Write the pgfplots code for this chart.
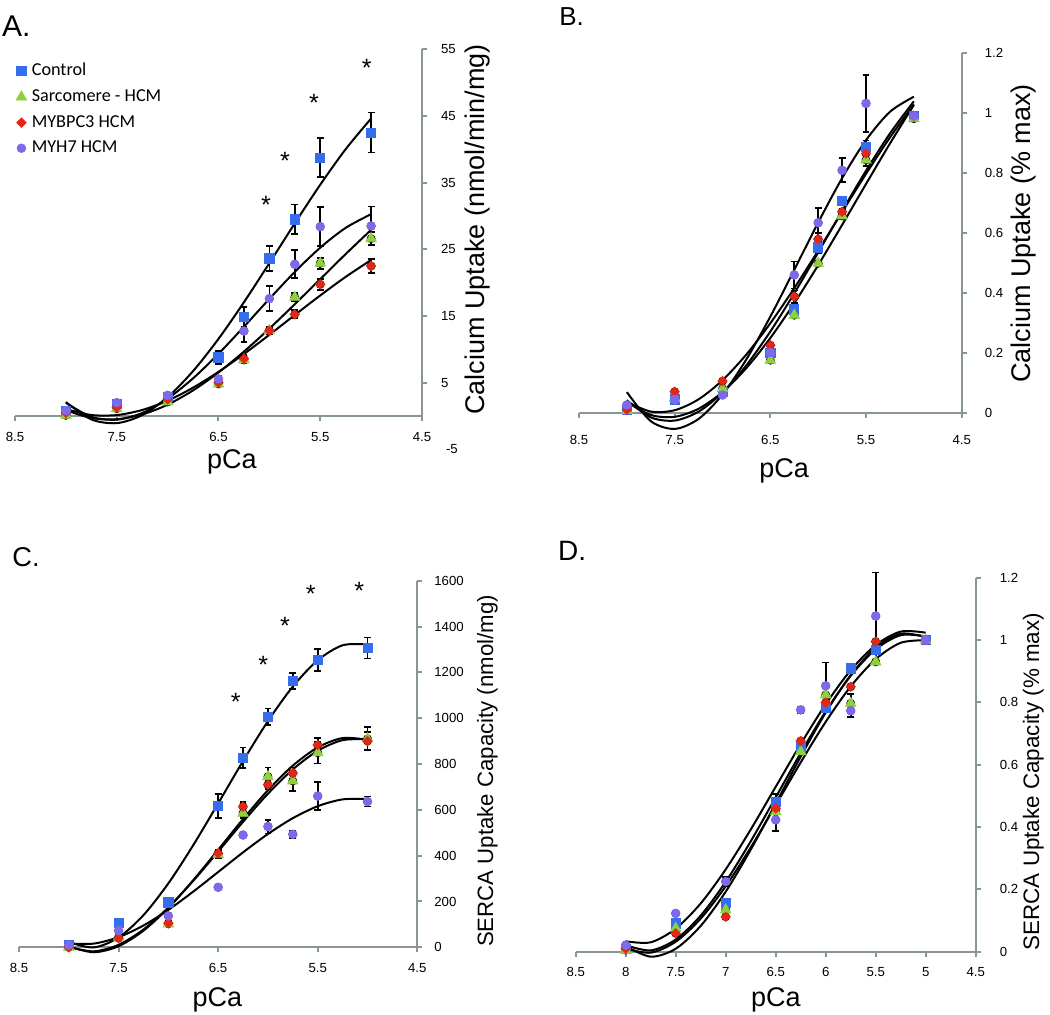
\documentclass[border=0pt]{standalone}
\usepackage{fontspec}
\setmainfont{Liberation Sans}
\newfontfamily\legendfont{Carlito}
\usepackage{pgfplots}
\usepackage{pgfplotstable}
\pgfplotsset{compat=1.18}

\definecolor{cblue}{RGB}{52,110,238}
\definecolor{cgreen}{RGB}{142,208,62}
\definecolor{cred}{RGB}{228,38,22}
\definecolor{cpurple}{RGB}{128,104,234}
\definecolor{axgray}{RGB}{138,150,150}

% ---------- Panel A data ----------
\pgfplotstableread{
x c ce s se m me h he
8 0.8 0 0.1 0 0.5 0 0.8 0
7.5 1.8 0 1.1 0 1.3 0 2.0 0
7 2.9 0 2.1 0 2.5 0 3.1 0
6.5 8.8 1.0 4.8 0.3 5.0 0.3 5.55 0.5
6.25 14.9 1.5 8.4 0.4 8.6 0.5 12.75 1.6
6 23.65 1.9 12.8 0.5 12.8 0.5 17.6 1.9
5.75 29.5 2.2 17.8 0.6 15.25 0.6 22.75 2.1
5.5 38.75 2.9 22.9 0.8 19.75 0.8 28.4 2.95
5 42.5 3.0 26.6 1.0 22.5 1.0 28.5 2.9
}\dataA
\pgfplotstableread{
x c s m h
8 2.09 0.87 1.03 1.98
7.75 -0.51 -0.30 0.15 -0.13
7.5 -1.07 -0.48 0.14 -0.55
7.25 0.13 0.23 0.90 0.45
7 2.83 1.70 2.30 2.60
6.75 6.73 3.84 4.25 5.65
6.5 11.57 6.53 6.62 9.33
6.25 17.06 9.66 9.30 13.39
6 22.93 13.11 12.18 17.57
5.75 28.90 16.77 15.15 21.61
5.5 34.69 20.53 18.08 25.25
5.25 40.02 24.29 20.87 28.22
5 44.62 27.92 23.40 30.27
}\fitA

% ---------- Panel B data ----------
\pgfplotstableread{
x c ce s se m me h he
8 0.01 0 0.007 0 0.01 0 0.026 0
7.5 0.044 0 0.048 0 0.07 0 0.044 0
7 0.07 0 0.08 0 0.105 0 0.059 0
6.5 0.2 0 0.175 0 0.225 0 0.2 0
6.25 0.344 0.02 0.325 0 0.387 0.02 0.459 0.045
6 0.551 0.02 0.498 0 0.578 0.02 0.633 0.05
5.75 0.706 0.01 0.656 0.01 0.67 0.01 0.808 0.04
5.5 0.887 0.02 0.842 0.02 0.864 0.02 1.031 0.095
5 0.99 0 0.98 0 0.99 0 0.989 0
}\dataB
\pgfplotstableread{
x c s m h
8 0.0415 0.0359 0.0361 0.0686
7.75 -0.0156 -0.0076 0.0038 -0.0281
7.5 -0.0262 -0.0137 0.0082 -0.0540
7.25 0.0035 0.0132 0.0447 -0.0207
7 0.0671 0.0689 0.1083 0.0605
6.75 0.1582 0.1490 0.1944 0.1781
6.5 0.2707 0.2491 0.2983 0.3204
6.25 0.3980 0.3649 0.4152 0.4762
6 0.5341 0.4919 0.5402 0.6338
5.75 0.6724 0.6259 0.6688 0.7818
5.5 0.8066 0.7624 0.7961 0.9086
5.25 0.9306 0.8971 0.9173 1.0030
5 1.0379 1.0257 1.0277 1.0532
}\fitB

% ---------- Panel C data ----------
\pgfplotstableread{
x c ce s se m me h he
8 10 0 0 0 0 0 10 0
7.5 105 0 44 0 40 0 73 0
7 196 15 102 0 105 0 137 0
6.5 617 52 406 15 410 15 262 0
6.25 828 44 585 20 614 20 490 0
6 1006 36 745 40 710 20 527 30
5.75 1162 34 726 44 760 25 493 15
5.5 1255 48 849 47 883 30 660 60
5 1306 46 910 51 900 40 636 22
}\dataC
\pgfplotstableread{
x c s m h
8 22.8 1.5 3.6 16.5
7.75 -0.7 -17.6 -21.6 16.1
7.5 42.8 10.8 4.7 44.2
7.25 140.3 77.7 72.6 95.2
7 279.0 173.9 172.0 163.4
6.75 445.9 290.3 292.9 243.1
6.5 628.1 417.9 425.5 328.6
6.25 812.8 547.6 559.7 414.3
6 987.1 670.1 685.5 494.5
5.75 1138.0 776.5 793.0 563.6
5.5 1252.7 857.5 872.2 615.8
5.25 1318.2 904.2 913.2 645.6
5 1321.7 907.3 905.8 647.2
}\fitC

% ---------- Panel D data ----------
\pgfplotstableread{
x c ce s se m me h he
8 0.01 0 0.005 0 0.01 0 0.021 0
7.5 0.091 0 0.075 0 0.059 0 0.123 0
7 0.157 0 0.134 0 0.112 0 0.225 0.015
6.5 0.481 0.025 0.449 0 0.46 0 0.423 0.035
6.25 0.658 0 0.642 0 0.676 0 0.776 0.01
6 0.781 0 0.824 0 0.799 0 0.853 0.075
5.75 0.909 0 0.797 0.03 0.85 0 0.773 0.02
5.5 0.968 0 0.93 0 0.995 0 1.077 0.14
5 1.0 0 1.0 0 1.0 0 1.0 0
}\dataD
\pgfplotstableread{
x c s m h
8 0.0210 0.0100 0.0179 0.0334
7.75 0.0041 -0.0031 -0.0160 0.0302
7.5 0.0391 0.0320 0.0095 0.0739
7.25 0.1159 0.1062 0.0828 0.1549
7 0.2242 0.2101 0.1925 0.2641
6.75 0.3541 0.3344 0.3272 0.3919
6.5 0.4953 0.4699 0.4755 0.5291
6.25 0.6376 0.6074 0.6259 0.6662
6 0.7710 0.7375 0.7670 0.7940
5.75 0.8852 0.8511 0.8874 0.9030
5.5 0.9701 0.9387 0.9756 0.9838
5.25 1.0156 0.9912 1.0203 1.0271
5 1.0116 0.9993 1.0099 1.0236
}\fitD

\tikzset{asterisk/.style={font=\fontsize{12.5}{12.5}\selectfont, yshift=-2.6pt}}

\pgfplotsset{
  panel/.style={
    scale only axis,
    x dir=reverse, xmin=4.5, xmax=8.5, ymin=0,
    axis x line=bottom, axis y line=right,
    axis line style={-, draw=axgray, line width=1pt},
    tick style={draw=axgray, line width=1pt},
    tick align=outside,
    major tick length=2.5pt,
    clip=false,
    ticklabel style={font=\fontsize{6.6}{7}\selectfont},
    xticklabel style={yshift=-2pt},
    legend image code/.code={\draw[#1] plot coordinates {(0pt,0pt)};},
  },
  curve/.style={black, line width=1pt, smooth, no markers, forget plot},
  ebar/.style={forget plot, only marks, mark=none,
    error bars/.cd, y dir=both, y explicit,
    error bar style={black, line width=0.85pt},
    error mark options={rotate=90, black, line width=0.85pt, mark size=1.7pt}},
  mc/.style={only marks, mark=square*, mark size=2.3pt, color=cblue},
  ms/.style={only marks, mark=triangle*, mark size=3pt, color=cgreen},
  mm/.style={only marks, mark=square*, mark size=1.65pt, mark options={rotate=45}, color=cred},
  mh/.style={only marks, mark=*, mark size=2.15pt, color=cpurple},
}

\newcommand{\panelplots}[2]{%
  \addplot[ebar] table[x=x,y=c,y error=ce]{#1};
  \addplot[ebar] table[x=x,y=s,y error=se]{#1};
  \addplot[ebar] table[x=x,y=m,y error=me]{#1};
  \addplot[ebar] table[x=x,y=h,y error=he]{#1};
  \addplot[mc] table[x=x,y=c]{#1};
  \addplot[ms] table[x=x,y=s]{#1};
  \addplot[mm] table[x=x,y=m]{#1};
  \addplot[mh] table[x=x,y=h]{#1};
  \addplot[curve] table[x=x,y=c]{#2};
  \addplot[curve] table[x=x,y=s]{#2};
  \addplot[curve] table[x=x,y=m]{#2};
  \addplot[curve] table[x=x,y=h]{#2};
}

\begin{document}
\begin{tikzpicture}
\useasboundingbox (0pt,0pt) rectangle (525pt,507pt);

% ---------------- A ----------------
\begin{axis}[panel, at={(7.5pt,299pt)}, anchor=south west,
  width=203.5pt, height=183.35pt, ymax=55,
  xtick={8.5,7.5,6.5,5.5,4.5}, xticklabels={8.5,7.5,6.5,5.5,4.5},
  ytick={5,15,25,35,45,55}, yticklabels={5,15,25,35,45,55},
  yticklabel style={xshift=3.5pt},
  legend style={at={(0.002,0.978)}, anchor=north west, draw=none, fill=none,
    font=\legendfont\fontsize{9.1}{10}\selectfont, row sep=0pt, inner sep=0pt,
    nodes={inner xsep=2.6pt, inner ysep=2.7pt}},
  legend cell align=left,
]
\panelplots{\dataA}{\fitA}
\legend{Control, Sarcomere - HCM, MYBPC3 HCM, MYH7 HCM}
\node[asterisk] at (axis cs:6.033,32.5) {*};
\node[asterisk] at (axis cs:5.846,39.1) {*};
\node[asterisk] at (axis cs:5.561,47.8) {*};
\node[asterisk] at (axis cs:5.043,53.0) {*};
\node[font=\fontsize{6.6}{7}\selectfont, anchor=west, xshift=8.5pt] at (axis cs:4.5,-5) {-5};
\end{axis}

% ---------------- B ----------------
\begin{axis}[panel, at={(289.5pt,300.65pt)}, anchor=south west,
  width=191.35pt, height=180pt, ymax=1.2,
  xtick={8.5,7.5,6.5,5.5,4.5}, xticklabels={8.5,7.5,6.5,5.5,4.5},
  xticklabel style={yshift=-3.2pt},
  ytick={0,0.2,0.4,0.6,0.8,1,1.2}, yticklabels={0,0.2,0.4,0.6,0.8,1,1.2},
  yticklabel style={xshift=5.5pt},
]
\panelplots{\dataB}{\fitB}
\end{axis}

% ---------------- C ----------------
\begin{axis}[panel, at={(9.5pt,33.35pt)}, anchor=south west,
  width=199.15pt, height=183.3pt, ymax=1600,
  xtick={8.5,7.5,6.5,5.5,4.5}, xticklabels={8.5,7.5,6.5,5.5,4.5},
  ytick={0,200,400,600,800,1000,1200,1400,1600},
  yticklabels={0,200,400,600,800,1000,1200,1400,1600},
  yticklabel style={xshift=2.5pt},
]
\panelplots{\dataC}{\fitC}
\node[asterisk] at (axis cs:6.324,1094) {*};
\node[asterisk] at (axis cs:6.047,1257) {*};
\node[asterisk] at (axis cs:5.829,1425) {*};
\node[asterisk] at (axis cs:5.571,1564) {*};
\node[asterisk] at (axis cs:5.083,1578) {*};
\end{axis}

% ---------------- D ----------------
\begin{axis}[panel, at={(287.85pt,31.15pt)}, anchor=south west,
  width=200pt, height=187pt, ymax=1.2,
  xtick={8.5,8,7.5,7,6.5,6,5.5,5,4.5}, xticklabels={8.5,8,7.5,7,6.5,6,5.5,5,4.5},
  ytick={0,0.2,0.4,0.6,0.8,1,1.2}, yticklabels={0,0.2,0.4,0.6,0.8,1,1.2},
  yticklabel style={xshift=6pt},
]
\panelplots{\dataD}{\fitD}
\end{axis}

% ---------------- labels ----------------
\node[anchor=base west, font=\fontsize{15}{15}\selectfont, inner sep=0pt] at (0.85pt,488.6pt) {A.};
\node[anchor=base west, font=\fontsize{13}{13}\selectfont, inner sep=0pt] at (279.5pt,494pt) {B.};
\node[anchor=base west, font=\fontsize{13.6}{13.6}\selectfont, inner sep=0pt] at (6pt,224pt) {C.};
\node[anchor=base west, font=\fontsize{14}{14}\selectfont, inner sep=0pt] at (278.9pt,227pt) {D.};

\node[anchor=base, font=\fontsize{13.5}{13.5}\selectfont, inner sep=0pt] at (116pt,272.8pt) {pCa};
\node[anchor=base, font=\fontsize{13.5}{13.5}\selectfont, inner sep=0pt] at (392.1pt,268.3pt) {pCa};
\node[anchor=base, font=\fontsize{13.5}{13.5}\selectfont, inner sep=0pt] at (108.75pt,3.67pt) {pCa};
\node[anchor=base, font=\fontsize{13.5}{13.5}\selectfont, inner sep=0pt] at (387.9pt,3.67pt) {pCa};

\node[rotate=90, font=\fontsize{13.5}{13.5}\selectfont, inner sep=0pt] at (239pt,392.25pt) {Calcium Uptake (nmol/min/mg)};
\node[rotate=90, font=\fontsize{13.5}{13.5}\selectfont, inner sep=0pt] at (511.7pt,390.3pt) {Calcium Uptake (\% max)};
\node[rotate=90, font=\fontsize{11.1}{11.1}\selectfont, inner sep=0pt] at (243.75pt,121.5pt) {SERCA Uptake Capacity (nmol/mg)};
\node[rotate=90, font=\fontsize{11.2}{11.2}\selectfont, inner sep=0pt] at (516.7pt,116.2pt) {SERCA Uptake Capacity (\% max)};
\end{tikzpicture}
\end{document}
